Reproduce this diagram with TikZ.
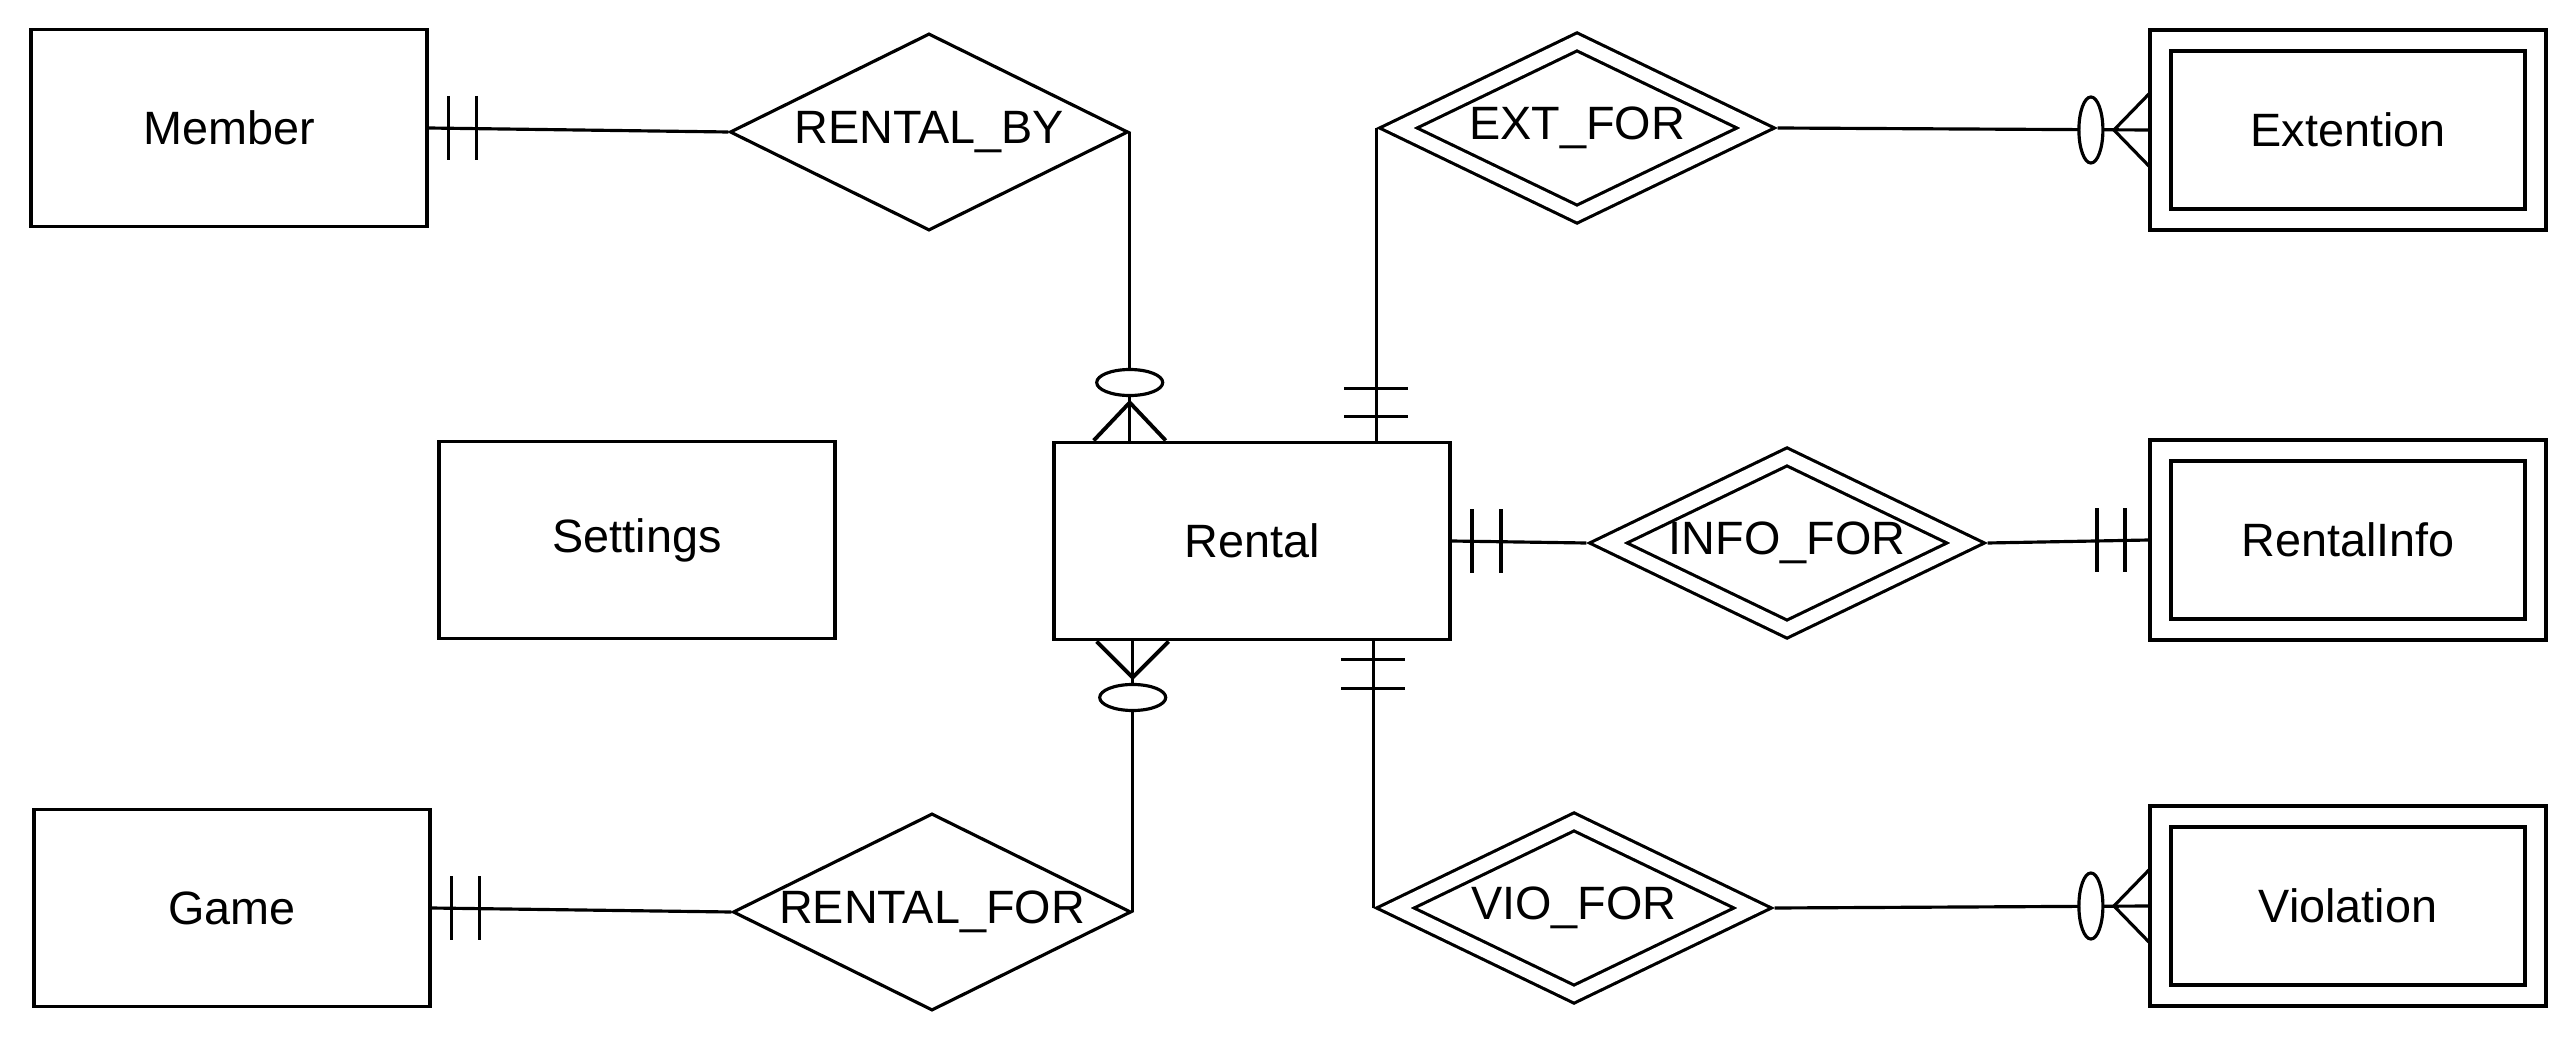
\documentclass[tikz,border=0pt]{standalone}
\usepackage{fontspec}
\setmainfont{Liberation Sans}
\usetikzlibrary{shapes.geometric,calc}
\tikzset{
  entity/.style={draw, line width=1.1pt, minimum width=3.95cm, minimum height=1.97cm, inner sep=0pt},
  weakentity/.style={draw, double, line width=1.1pt, double distance=4.8pt, minimum width=3.75cm, minimum height=1.79cm, inner sep=0pt, outer sep=0.115cm},
  rel/.style={draw, diamond, aspect=2, line width=0.9pt, minimum width=3.98cm, minimum height=1.97cm, inner sep=0pt},
  weakrel/.style={rel, double, double distance=3.7pt, minimum width=3.7cm, minimum height=1.85cm, outer sep=0.155cm},
  link/.style={line width=0.9pt},
  tick/.style={line width=1.1pt}
}
\begin{document}
\begin{tikzpicture}[x=0.01cm, y=-0.01cm, font=\fontsize{13.3}{16}\selectfont]
        \useasboundingbox (0,0) rectangle (2576,1040);
        % entities
        \node[entity] (member) at (229,128) {Member};
        \node[entity] (settings) at (637,540) {Settings};
        \node[entity] (game) at (232,908) {Game};
        \node[entity] (rental) at (1252,541) {Rental};
        \node[weakentity] (ext) at (2348,130) {Extention};
        \node[weakentity] (info) at (2348,540) {RentalInfo};
        \node[weakentity] (vio) at (2348,906) {Violation};
        % relationships
        \node[rel] (rentby) at (929,132) {RENTAL\_BY};
        \node[rel] (rentfor) at (932,912) {RENTAL\_FOR};
        \node[weakrel] (extfor) at (1577,128) {EXT\_FOR};
        \node[weakrel] (infofor) at (1787,543) {INFO\_FOR};
        \node[weakrel] (viofor) at (1574,908) {VIO\_FOR};
        % foot points on Rental
        \coordinate (rbfoot) at (rentby.east |- rental.north);
        \coordinate (rffoot) at (rentfor.east |- rental.south);
        \coordinate (exfoot) at (extfor.west |- rental.north);
        \coordinate (vifoot) at (viofor.west |- rental.south);
        % connectors
        \draw[link] (member.east) -- (rentby.west);
        \draw[link] (game.east) -- (rentfor.west);
        \draw[link] (rentby.east) -- (rbfoot);
        \draw[link] (rentfor.east) -- (rffoot);
        \draw[link] (extfor.west) -- (exfoot);
        \draw[link] (viofor.west) -- (vifoot);
        \draw[link] (rental.east) -- (infofor.west);
        \draw[link] (extfor.east) -- (ext.west);
        \draw[link] (infofor.east) -- (info.west);
        \draw[link] (viofor.east) -- (vio.west);
        % one and only one
        \draw[tick] ($(member.east)+(20,-32)$) -- ++(0,64) ($(member.east)+(48,-32)$) -- ++(0,64);
        \draw[tick] ($(game.east)+(20,-32)$) -- ++(0,64) ($(game.east)+(48,-32)$) -- ++(0,64);
        \draw[tick] ($(exfoot)+(-32,-24)$) -- ++(64,0) ($(exfoot)+(-32,-52)$) -- ++(64,0);
        \draw[tick] ($(vifoot)+(-32,18)$) -- ++(64,0) ($(vifoot)+(-32,47)$) -- ++(64,0);
        \draw[tick] ($(rental.east)+(20,-32)$) -- ++(0,64) ($(rental.east)+(49,-32)$) -- ++(0,64);
        \draw[tick] ($(info.west)+(-24,-32)$) -- ++(0,64) ($(info.west)+(-52,-32)$) -- ++(0,64);
        % zero or many
        \draw[tick] ($(rbfoot)+(-36,0)$) -- ($(rbfoot)+(0,-38)$) -- ($(rbfoot)+(36,0)$);
        \draw[link, fill=white] ($(rbfoot)+(0,-58)$) ellipse [x radius=0.33cm, y radius=0.13cm];
        \draw[tick] ($(rffoot)+(-36,0)$) -- ($(rffoot)+(0,36)$) -- ($(rffoot)+(36,0)$);
        \draw[link, fill=white] ($(rffoot)+(0,56)$) ellipse [x radius=0.33cm, y radius=0.13cm];
        \draw[link] ($(ext.west)+(0,-36)$) -- ($(ext.west)+(-35,0)$) -- ($(ext.west)+(0,36)$);
        \draw[link, fill=white] ($(ext.west)+(-58,0)$) ellipse [x radius=0.12cm, y radius=0.33cm];
        \draw[link] ($(vio.west)+(0,-36)$) -- ($(vio.west)+(-35,0)$) -- ($(vio.west)+(0,36)$);
        \draw[link, fill=white] ($(vio.west)+(-58,0)$) ellipse [x radius=0.12cm, y radius=0.33cm];
\end{tikzpicture}
\end{document}
